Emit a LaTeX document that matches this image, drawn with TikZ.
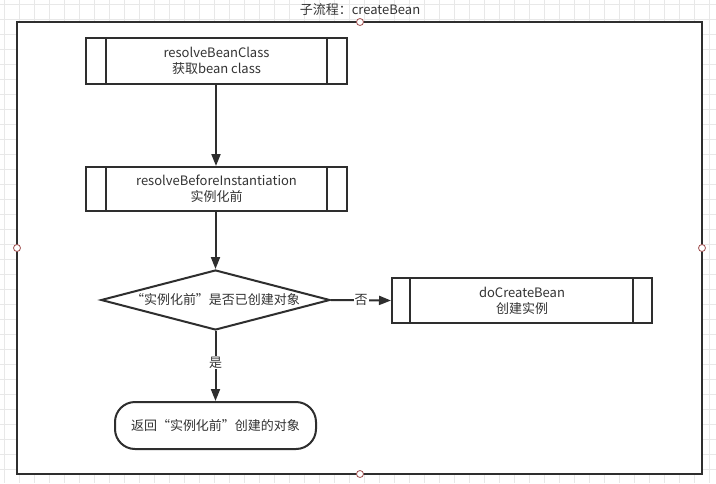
\documentclass[tikz,border=0pt]{standalone}
\usepackage{fontspec}
\setmainfont{Noto Sans CJK SC}
\usetikzlibrary{shapes.geometric,arrows.meta}
\definecolor{ln}{HTML}{2E2E2E}
\definecolor{tx}{HTML}{333333}
\definecolor{gridc}{HTML}{E8E8E8}
\definecolor{pt}{HTML}{A05050}
\begin{document}
\begin{tikzpicture}[x=1pt,y=-1pt,
  lbl/.style={font=\fontsize{13}{16}\selectfont, text=tx, align=center},
  procbox/.style={draw=ln, line width=2pt, minimum width=261pt, minimum height=46pt, inner sep=0pt, lbl},
  arr/.style={draw=ln, line width=2pt, -{Triangle[width=9pt,length=12pt]}},
  handle/.style={circle, draw=pt, fill=white, line width=0.8pt, minimum size=7pt, inner sep=0pt}]
\useasboundingbox (0,0) rectangle (716,483);
\fill[white] (0,0) rectangle (716,483);
\foreach \i in {4,19,...,716} \draw[gridc, line width=0.6pt] (\i,0) -- (\i,483);
\foreach \j in {4,19,...,483} \draw[gridc, line width=0.6pt] (0,\j) -- (716,\j);
% frame
\fill[white] (17,22) rectangle (702,474);
\draw[ln, line width=2.5pt] (17,22) rectangle (702,474);
\node[lbl] (title) at (360,10) {子流程：createBean};
% box 1
\node[procbox] (b1) at (216.5,61) {resolveBeanClass\\获取bean class};
\draw[ln, line width=2pt] ([xshift=21pt]b1.north west) -- ([xshift=21pt]b1.south west);
\draw[ln, line width=2pt] ([xshift=-21pt]b1.north east) -- ([xshift=-21pt]b1.south east);
% box 2
\node[procbox, minimum height=44pt] (b2) at (216.5,189) {resolveBeforeInstantiation\\实例化前};
\draw[ln, line width=2pt] ([xshift=21pt]b2.north west) -- ([xshift=21pt]b2.south west);
\draw[ln, line width=2pt] ([xshift=-21pt]b2.north east) -- ([xshift=-21pt]b2.south east);
% diamond
\node[diamond, draw=ln, line width=2pt, aspect=3.8, minimum width=229pt, minimum height=60pt, inner sep=0pt, lbl] (d) at (215.5,300) {};
\node[lbl] (dt) at (d.center) {“实例化前”是否已创建对象};
% box 3
\node[procbox, minimum width=260pt, minimum height=45pt] (b3) at (522,300.5) {doCreateBean\\创建实例};
\draw[ln, line width=2pt] ([xshift=19pt]b3.north west) -- ([xshift=19pt]b3.south west);
\draw[ln, line width=2pt] ([xshift=-20pt]b3.north east) -- ([xshift=-20pt]b3.south east);
% terminal
\node[draw=ln, line width=2pt, rounded corners=20pt, minimum width=201pt, minimum height=47pt, inner sep=0pt, lbl] (t) at (215.5,425.5) {返回“实例化前”创建的对象};
% connectors
\draw[arr] (b1.south -| 216,0) -- (b2.north -| 216,0);
\draw[arr] (b2.south -| 215.5,0) -- (d.north);
\draw[arr] (d.east) -- node[fill=white, lbl, inner sep=1pt] (no) {否} (b3.west);
\draw[arr] (d.south) -- node[fill=white, lbl, inner sep=1pt, pos=0.45] (yes) {是} (t.north);
% handles
\node[handle] (h1) at (360,22) {};
\node[handle] (h2) at (17,248) {};
\node[handle] (h3) at (702,248) {};
\node[handle] (h4) at (360,474) {};
\end{tikzpicture}
\end{document}
